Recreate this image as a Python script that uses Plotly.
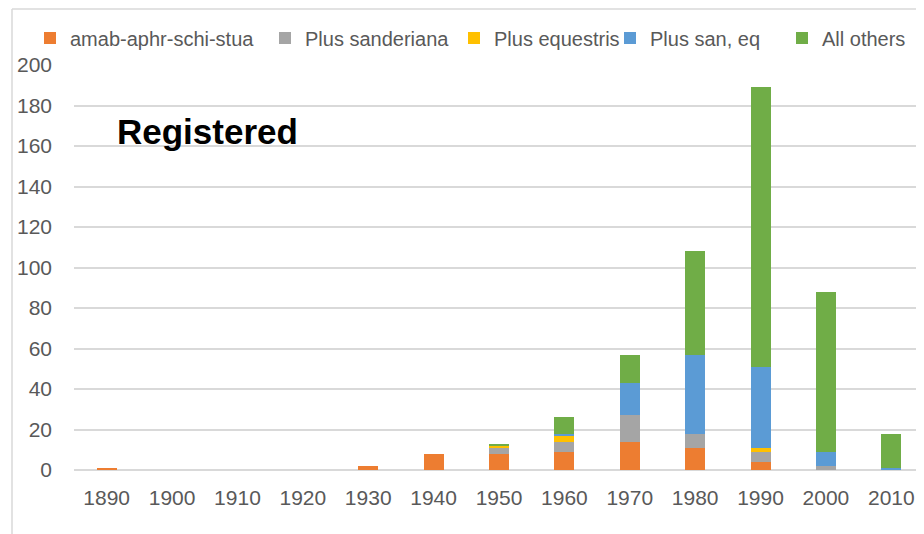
import plotly.graph_objects as go

decades = ["1890", "1900", "1910", "1920", "1930", "1940", "1950",
           "1960", "1970", "1980", "1990", "2000", "2010"]

amab_aphr_schi_stua = [1, 0, 0, 0, 2, 8, 8, 9, 14, 11, 4, 0, 0]
plus_sanderiana = [0, 0, 0, 0, 0, 0, 3, 5, 13, 7, 5, 2, 0]
plus_equestris = [0, 0, 0, 0, 0, 0, 1, 3, 0, 0, 2, 0, 0]
plus_san_eq = [0, 0, 0, 0, 0, 0, 0, 1, 16, 39, 40, 7, 1]
all_others = [0, 0, 0, 0, 0, 0, 1, 8, 14, 51, 138, 79, 17]

series = [
    ("amab-aphr-schi-stua", amab_aphr_schi_stua, "#ED7D31"),
    ("Plus sanderiana", plus_sanderiana, "#A5A5A5"),
    ("Plus equestris", plus_equestris, "#FFC000"),
    ("Plus san, eq", plus_san_eq, "#5B9BD5"),
    ("All others", all_others, "#70AD47"),
]

# page body adds an 8px offset, so the figure is sized to fit behind it
W, H = 916, 526
L, R, T, B = 66, 0, 57, 64
pw, ph = W - L - R, H - T - B

font_family = "Liberation Sans, Arial, sans-serif"

# screen x where each legend entry's text starts in the original
legend_text_x = [70, 305, 494, 650, 822]

fig = go.Figure()
legends = {}
for i, (name, vals, color) in enumerate(series):
    key = "legend" if i == 0 else f"legend{i + 1}"
    fig.add_trace(go.Bar(
        x=decades, y=vals, name=name, legend=key,
        marker=dict(color=color, line=dict(width=0)),
    ))
    legends[key] = dict(
        orientation="h",
        xref="container", yref="container",
        x=(legend_text_x[i] - 8 - 40) / W, y=1 - 30 / H,
        xanchor="left", yanchor="middle",
        font=dict(size=20, color="#595959"),
        bgcolor="rgba(0,0,0,0)",
    )

fig.update_layout(
    barmode="stack",
    bargap=0.694,
    width=W, height=H,
    margin=dict(l=L, r=R, t=T, b=B, autoexpand=False),
    plot_bgcolor="white",
    paper_bgcolor="white",
    font=dict(family=font_family, size=21, color="#595959"),
    showlegend=True,
    xaxis=dict(
        showgrid=False, showline=False, ticks="",
        ticklabelstandoff=13,
        tickfont=dict(size=21, color="#595959"),
    ),
    yaxis=dict(
        range=[0, 200], dtick=20,
        showgrid=True, gridcolor="#D9D9D9", gridwidth=1.5,
        zeroline=True, zerolinecolor="#D9D9D9", zerolinewidth=1.5,
        showline=False, ticks="",
        ticklabelstandoff=21,
        tickfont=dict(size=21, color="#595959"),
    ),
    **legends,
)

fig.add_annotation(
    text="<b>Registered</b>",
    xref="paper", yref="paper",
    x=(107 - L) / pw, y=(H - B - 124) / ph,
    xanchor="left", yanchor="middle",
    showarrow=False,
    font=dict(family=font_family, size=35, color="black"),
)

# left and top edges of the original chart frame
fig.add_shape(type="line", xref="paper", yref="paper",
              x0=(4 - L) / pw, x1=(4 - L) / pw, y0=-B / ph, y1=(H - B - 1) / ph,
              line=dict(color="#D9D9D9", width=1.5))
fig.add_shape(type="line", xref="paper", yref="paper",
              x0=(4 - L) / pw, x1=(W - L) / pw, y0=(H - B - 1) / ph, y1=(H - B - 1) / ph,
              line=dict(color="#D9D9D9", width=1.5))

fig.write_html("out.html")
